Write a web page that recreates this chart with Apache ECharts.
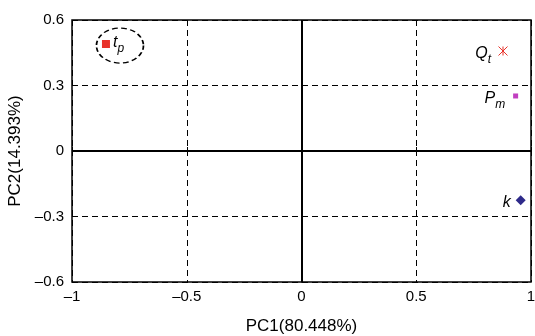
<!DOCTYPE html>
<html><head><meta charset="utf-8">
<script src="https://cdn.jsdelivr.net/npm/echarts@6/dist/echarts.min.js"></script>
<style>html,body{margin:0;padding:0;background:#fff}#c{width:535px;height:336px}</style>
</head><body><div id="c"></div>
<script>
const pointNames = ['tp', 'Qt', 'Pm', 'k'];
const pc1 = [-0.852, 0.878, 0.933, 0.955];
const pc2 = [0.49, 0.458, 0.252, -0.226];
const ellipseCenter = [-0.791, 0.483];
const xTicks = [-1, -0.5, 0, 0.5, 1];
const yTicks = [-0.6, -0.3, 0, 0.3, 0.6];
const xName = 'PC1(80.448%)';
const yName = 'PC2(14.393%)';

const fmt = v => { const s = String(Math.round(v * 10) / 10); return s.replace('-', '\u2013'); };
const FONT = 'Liberation Sans';
const rich = {
  i: {fontFamily: FONT, fontStyle: 'italic', fontSize: 16, color: '#000', verticalAlign: 'top', lineHeight: 18},
  s: {fontFamily: FONT, fontStyle: 'italic', fontSize: 12, color: '#000', verticalAlign: 'top', lineHeight: 14, padding: [8, 0, 0, 0]}
};
function pt(idx, symbol, size, color, labelText, pos, offset, extraStyle) {
  return {
    type: 'scatter', symbol: symbol, symbolSize: size,
    itemStyle: Object.assign({color: color, opacity: 1}, extraStyle || {}),
    label: {show: true, position: pos, offset: offset, formatter: labelText, rich: rich, color: '#000', opacity: 1},
    emphasis: {disabled: true},
    data: [[pc1[idx], pc2[idx]]], z: 5
  };
}
const chart = echarts.init(document.getElementById('c'));
chart.setOption({
  animation: false,
  grid: {left: 72, right: 4, top: 20, bottom: 54, show: true, borderColor: '#000', borderWidth: 1.5, backgroundColor: 'transparent', containLabel: false, outerBoundsMode: 'none'},
  xAxis: {
    type: 'value', min: xTicks[0], max: xTicks[xTicks.length - 1], interval: 0.5,
    name: xName, nameLocation: 'middle', nameGap: 36,
    nameTextStyle: {fontFamily: FONT, fontSize: 17, color: '#000'},
    axisLine: {show: false}, axisTick: {show: true, inside: true, length: 4, lineStyle: {color: '#000'}},
    axisLabel: {formatter: fmt, fontFamily: FONT, fontSize: 15, color: '#000', margin: 7},
    splitLine: {show: true, lineStyle: {color: '#000', type: [6, 4], width: 1}}
  },
  yAxis: {
    type: 'value', min: yTicks[0], max: yTicks[yTicks.length - 1], interval: 0.3,
    name: yName, nameLocation: 'middle', nameGap: 38, nameRotate: 90,
    nameTextStyle: {fontFamily: FONT, fontSize: 17, color: '#000'},
    axisLine: {show: false}, axisTick: {show: true, inside: true, length: 4, lineStyle: {color: '#000'}},
    axisLabel: {formatter: fmt, fontFamily: FONT, fontSize: 15, color: '#000', margin: 8},
    splitLine: {show: true, lineStyle: {color: '#000', type: [6, 4], width: 1}}
  },
  series: [
    {
      type: 'line', data: [], z: 3,
      markLine: {silent: true, symbol: 'none', label: {show: false},
        lineStyle: {color: '#000', type: 'solid', width: 2},
        data: [{xAxis: 0}, {yAxis: 0}]}
    },
    {
      type: 'scatter', symbol: 'circle', symbolSize: [47, 35], z: 4,
      itemStyle: {color: 'rgba(0,0,0,0)', borderColor: '#000', borderWidth: 1.5, borderType: [5, 3], opacity: 1},
      emphasis: {disabled: true},
      data: [ellipseCenter]
    },
    pt(0, 'rect', 8, '#e8322a', '{i|t}{s|p}', 'right', [-2, 0]),
    pt(1, 'path://M0,0L10,10M10,0L0,10M5,0L5,10', 9, 'none', '{i|Q}{s|t}', 'left', [0, 4], {borderColor: '#e8322a', borderWidth: 1}),
    pt(2, 'rect', 5, '#c13fc0', '{i|P}{s|m}', 'left', [-3, 4]),
    pt(3, 'diamond', 10, '#2e2a8a', '{i|k}', 'left', [0, 3])
  ]
});
</script></body></html>
